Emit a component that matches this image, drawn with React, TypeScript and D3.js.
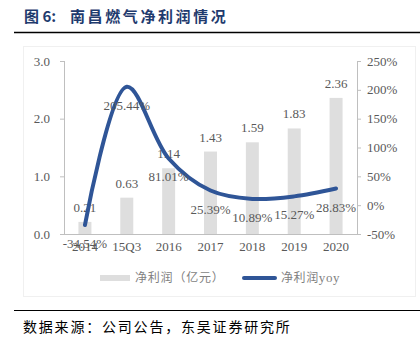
import * as d3 from 'd3';

const categories = ['2014', '15Q3', '2016', '2017', '2018', '2019', '2020'];
const profit = [0.21, 0.63, 1.14, 1.43, 1.59, 1.83, 2.36];
const yoy = [-34.54, 205.44, 81.01, 25.39, 10.89, 15.27, 28.83];
const leftTicks = [0, 1, 2, 3];
const rightTicks = [-50, 0, 50, 100, 150, 200, 250];

const serif = '"Liberation Serif", "Times New Roman", serif';
const cjk = '"Noto Sans CJK SC", sans-serif';

export default function App() {
  const width = 420;
  const height = 351;
  const plot = { left: 64, right: 357, top: 61, bottom: 234 };

  const x = d3
    .scaleBand()
    .domain(categories)
    .range([plot.left, plot.right])
    .paddingInner(0.69)
    .paddingOuter(0.345);
  const yL = d3.scaleLinear().domain([0, 3]).range([plot.bottom, plot.top]);
  const yR = d3.scaleLinear().domain([-50, 250]).range([plot.bottom, plot.top]);
  const cx = (c: string) => (x(c) ?? 0) + x.bandwidth() / 2;

  const line = d3
    .line<number>()
    .x((_, i) => cx(categories[i]))
    .y((d) => yR(d))
    .curve(d3.curveCatmullRom.alpha(0.5));

  const grey = '#595959';
  const axisColor = '#bfbfbf';

  return (
    <svg
      width={width}
      height={height}
      style={{ position: 'absolute', left: 0, top: 0, background: '#fff' }}
    >
      <text y={22} fontFamily={cjk} fontWeight="bold" fontSize={15} fill="#1f3b6e">
        <tspan x={24}>图 6:</tspan>
        <tspan x={70} letterSpacing={2.6}>南昌燃气净利润情况</tspan>
      </text>
      <line x1={14} x2={420} y1={32.5} y2={32.5} stroke="#000" strokeWidth={1.5} />

      <rect x={23.5} y={46.5} width={392} height={250} fill="none" stroke="#f0f0f0" />

      {/* bars */}
      {profit.map((v, i) => (
        <rect
          key={categories[i]}
          x={x(categories[i])}
          y={yL(v)}
          width={x.bandwidth()}
          height={yL(0) - yL(v)}
          fill="#dedede"
        />
      ))}

      {/* axes */}
      <line x1={plot.left} x2={plot.right} y1={plot.bottom + 0.5} y2={plot.bottom + 0.5} stroke={axisColor} />
      <line x1={plot.left + 0.5} x2={plot.left + 0.5} y1={plot.top} y2={plot.bottom} stroke={axisColor} />
      <line x1={plot.right + 0.5} x2={plot.right + 0.5} y1={plot.top} y2={plot.bottom} stroke={axisColor} />
      {leftTicks.map((t) => (
        <g key={`l${t}`}>
          <line x1={plot.left - 4} x2={plot.left} y1={yL(t) + 0.5} y2={yL(t) + 0.5} stroke={axisColor} />
          <text x={plot.left - 14} y={yL(t) + 4.5} textAnchor="end" fontFamily={serif} fontSize={13} fill={grey}>
            {t.toFixed(1)}
          </text>
        </g>
      ))}
      {rightTicks.map((t) => (
        <g key={`r${t}`}>
          <line x1={plot.right} x2={plot.right + 4} y1={yR(t) + 0.5} y2={yR(t) + 0.5} stroke={axisColor} />
          <text x={plot.right + 10} y={yR(t) + 4.5} fontFamily={serif} fontSize={13} fill={grey}>
            {t}%
          </text>
        </g>
      ))}
      {categories.map((c) => (
        <text key={c} x={cx(c)} y={plot.bottom + 17} textAnchor="middle" fontFamily={serif} fontSize={13} fill={grey}>
          {c}
        </text>
      ))}

      {/* bar labels */}
      {profit.map((v, i) => (
        <text
          key={`pl${i}`}
          x={cx(categories[i])}
          y={yL(v) - 10}
          textAnchor="middle"
          fontFamily={serif}
          fontSize={13}
          fill={grey}
        >
          {v.toFixed(2)}
        </text>
      ))}

      {/* yoy line */}
      <path d={line(yoy) ?? ''} fill="none" stroke="#2f5597" strokeWidth={4} strokeLinecap="round" />
      {yoy.map((v, i) => (
        <text
          key={`yl${i}`}
          x={cx(categories[i])}
          y={yR(v) + 23}
          textAnchor="middle"
          fontFamily={serif}
          fontSize={13}
          fill={grey}
        >
          {v.toFixed(2)}%
        </text>
      ))}

      {/* legend */}
      <rect x={100} y={275} width={30} height={6} fill="#dedede" />
      <text x={135} y={282} fontFamily={cjk} fontSize={12} letterSpacing={0.8} fill="#7f7f7f">
        净利润（亿元）
      </text>
      <line x1={244} x2={275} y1={278} y2={278} stroke="#2f5597" strokeWidth={4} strokeLinecap="round" />
      <text x={281} y={282} fontFamily={cjk} fontSize={12} letterSpacing={0.6} fill="#7f7f7f">
        净利润<tspan fontFamily={serif} fontSize={13}>yoy</tspan>
      </text>

      <line x1={14} x2={420} y1={310.5} y2={310.5} stroke="#000" strokeWidth={1.2} />
      <text x={23} y={332} fontFamily={cjk} fontSize={14} letterSpacing={1.8} fill="#000">
        数据来源：公司公告，东吴证券研究所
      </text>
    </svg>
  );
}
